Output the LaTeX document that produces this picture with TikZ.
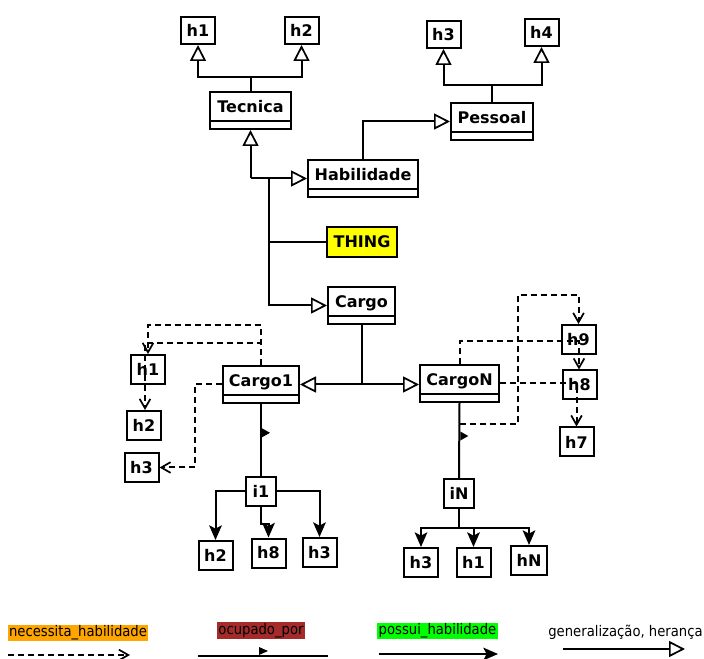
\documentclass[tikz,border=0pt]{standalone}
\usepackage{fontspec}
\setmainfont{DejaVu Sans}
\newfontfamily\legfont{DejaVu Sans Condensed}
\usetikzlibrary{arrows.meta}
\definecolor{thingy}{HTML}{FFFF00}
\definecolor{orangec}{HTML}{FFA500}
\definecolor{brownc}{HTML}{A52A2A}
\definecolor{greenc}{HTML}{00FF00}
\begin{document}
\begin{tikzpicture}[x=0.75pt,y=-0.75pt,
  lw/.style={line width=1.5pt},
  box/.style={draw, line width=1.5pt, fill=white, font=\bfseries\fontsize{12}{14}\selectfont, inner sep=0pt},
  hbox/.style={box, minimum width=25.5pt, minimum height=21.75pt},
  cls/.style={box, minimum height=27.75pt, text height=15.4pt, text depth=12.35pt,
    path picture={\draw[line width=1.5pt] ([yshift=6pt]path picture bounding box.south west) -- ([yshift=6pt]path picture bounding box.south east);}},
  gen/.style={line width=1.5pt, -{Triangle[open, length=12pt, width=12pt, line width=1.3pt]}},
  has/.style={line width=1.5pt, -{Stealth[length=11pt, width=9.5pt, inset=2.5pt]}},
  dep/.style={line width=1.5pt, dash pattern=on 4.5pt off 3pt, -{Straight Barb[length=7pt, width=8pt, line width=1.3pt]}},
  legbox/.style={font=\legfont\fontsize{11}{13}\selectfont, inner sep=1pt, minimum height=12pt, text height=8pt, text depth=2.2pt}
]
\useasboundingbox (0,0) rectangle (704,659);

% top nodes
\node[hbox, minimum height=20.25pt] (ht1) at (198,30.5) {h1};
\node[hbox, minimum height=20.25pt] (ht2) at (301.5,30.5) {h2};
\node[hbox, minimum height=20.25pt] (ht3) at (443.5,34.5) {h3};
\node[hbox, minimum height=20.25pt] (ht4) at (541.5,32.5) {h4};
\node[cls, minimum width=60.75pt] (tec) at (250.5,110.5) {Tecnica};
\node[cls, minimum width=61.5pt] (pes) at (492,121.5) {Pessoal};
\node[cls, minimum width=82.5pt] (hab) at (363,178.5) {Habilidade};
\node[box, fill=thingy, minimum width=52.5pt, minimum height=22.5pt] (thing) at (362,242) {THING};
\node[cls, minimum width=50.25pt] (cargo) at (361.5,305.5) {Cargo};
\node[cls, minimum width=57pt] (c1) at (261,384.5) {Cargo1};
\node[cls, minimum width=59.25pt] (cN) at (459.5,383.5) {CargoN};

% left
\node[hbox] (hl1) at (148,369.5) {h1};
\node[hbox] (hl2) at (144,425.5) {h2};
\node[hbox] (hl3) at (141.5,467.5) {h3};
\node[hbox, minimum width=22.5pt] (i1) at (261,491.5) {i1};
\node[hbox] (hb2) at (215.5,555.5) {h2};
\node[hbox] (hb8) at (268.5,553) {h8};
\node[hbox] (hb3) at (319.5,552.5) {h3};

% right
\node[hbox, minimum width=22.5pt] (iN) at (459,493.5) {iN};
\node[hbox] (hn3) at (421,562.5) {h3};
\node[hbox] (hn1) at (473.5,562.5) {h1};
\node[hbox, minimum width=27pt] (hnN) at (529,560.5) {hN};
\node[hbox] (hr9) at (578.5,339.5) {h9};
\node[hbox] (hr8) at (579.5,385) {h8};
\node[hbox] (hr7) at (576.5,442) {h7};

% generalization connectors
\coordinate (tj) at (tec.north |- 0,77);
\draw[lw] (tec.north) -- (tj);
\draw[gen] (tj) -| (ht1.south);
\draw[gen] (tj) -| (ht2.south);
\coordinate (pj) at (pes.north |- 0,85);
\draw[lw] (pes.north) -- (pj);
\draw[gen] (pj) -| (ht3.south);
\draw[gen] (pj) -| (ht4.south);
\draw[gen] (hab.north) |- (pes.west);
\coordinate (j1) at (tec.south |- hab.west);
\draw[gen] (j1) -- (tec.south);
\draw[gen] (j1) -- (hab.west);
\coordinate (j2) at (269,178.5);
\draw[gen] (j2) |- (cargo.west);
\coordinate (j3) at (j2 |- thing.west);
\draw[lw] (j3) -- (thing.west);
\coordinate (j4) at (cargo.south |- c1.east);
\draw[lw] (cargo.south) -- (j4);
\draw[gen] (j4) -- (c1.east);
\draw[gen] (j4) -- (j4 -| cN.west);

% ocupado_por
\draw[lw] (c1.south) -- (i1.north) coordinate[pos=0.4] (m1);
\fill (m1) ++(1,-4.5) -- ++(0,9) -- ++(8,-4.5) -- cycle;
\draw[lw] (cN.south) -- (iN.north) coordinate[pos=0.44] (m2);
\fill (m2) ++(1,-4.5) -- ++(0,9) -- ++(8,-4.5) -- cycle;

% possui_habilidade
\draw[has] (i1.west) -| (hb2.north);
\draw[has] (i1.east) -| (hb3.north);
\draw[has] (i1.south) -- ++(0,17) -| (hb8.north);
\coordinate (jn) at (iN.south |- 0,528);
\draw[lw] (iN.south) -- (jn);
\draw[has] (jn) -| (hn3.north);
\draw[has] (jn) -| (hn1.north);
\draw[has] (jn) -| (hnN.north);

% necessita_habilidade
\coordinate (dL1) at (148,325);
\draw[dep] (c1.north) |- (dL1) -- (hl1.north);
\coordinate (dL2) at (145,343);
\draw[dep] (c1.north) |- (dL2) -- (dL2 |- hl2.north);
\coordinate (dL3) at (195,467.5);
\draw[dep] (c1.west) -| (dL3) -- (hl3.east);
\coordinate (dR1) at (579,341);
\draw[dep] (cN.north) |- (dR1) -- (dR1 |- hr8.north);
\draw[dep] (cN.east) -| (hr7.north);
\coordinate (dR3s) at (cN.south |- 0,424);
\coordinate (dR3) at (518,295);
\draw[dep] (dR3s) -| (dR3) -| (hr9.north);

% legend
\node[legbox, fill=orangec, minimum width=105pt] (lg1) at (78,633) {necessita\_habilidade};
\node[legbox, fill=brownc, minimum width=54pt] (lg2) at (261,630.5) {ocupado\_por};
\node[legbox, fill=greenc, minimum width=89.25pt] (lg3) at (437.5,631) {possui\_habilidade};
\node[legbox] (lg4) at (625.5,633) {generalização, herança};
\coordinate (l1a) at (8,655); \coordinate (l1b) at (130,655);
\draw[dep] (l1a) -- (l1b);
\coordinate (l2a) at (198,656); \coordinate (l2b) at (328,656);
\draw[lw] (l2a) -- (l2b);
\fill (259,647) -- (259,655) -- (268,651) -- cycle;
\coordinate (l3a) at (379,654); \coordinate (l3b) at (498,654);
\draw[has] (l3a) -- (l3b);
\coordinate (l4a) at (563,649); \coordinate (l4b) at (685,649);
\draw[gen] (l4a) -- (l4b);
\end{tikzpicture}
\end{document}
